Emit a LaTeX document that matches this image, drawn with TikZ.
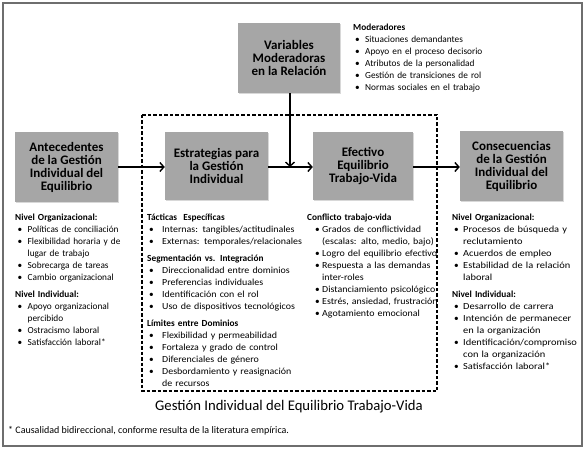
\documentclass[tikz,border=0pt]{standalone}
\usepackage{fontspec}
\setmainfont{Carlito}
\newfontfamily\fsA[FakeStretch=1.07]{Carlito}
\newfontfamily\fsB[FakeStretch=1.07]{Carlito}
\newfontfamily\fsC[FakeStretch=1.12]{Carlito}
\usetikzlibrary{arrows.meta,shadows}
\newlength{\boff}\newlength{\bind}
\newcommand{\bfnt}{}
\newcommand{\hfnt}{}
\newcommand{\lsetup}[2]{\raggedright\hyphenpenalty=10000 \exhyphenpenalty=10000 \setlength{\boff}{#1}\setlength{\bind}{#2}}
\newcommand{\bi}[1]{\par\hangindent=\bind\hangafter=1\noindent\hbox to \bind{\hspace{\boff}\textbullet\hfil}{\bfnt #1}}
\newcommand{\hd}[1]{\par\noindent{\hfnt\bfseries #1}}
\newcommand{\gap}{\par\vspace{5pt}}
\tikzset{
  gbox/.style={draw=none,fill={rgb,255:red,166;green,166;blue,166},align=center,
    font=\bfseries\fontsize{13}{13}\selectfont,inner sep=0pt,
    drop shadow={shadow xshift=1pt,shadow yshift=-1pt,opacity=0.3,fill=gray}},
  lst/.style={anchor=north west,inner sep=0pt,text width=#1,
    font=\fontsize{9.3}{12}\selectfont},
  arr/.style={line width=1.4pt,-{Straight Barb[length=4pt,width=9pt,line width=1.4pt]}}
}
\begin{document}
\begin{tikzpicture}[x=1pt,y=-1pt]
\useasboundingbox (0,0) rectangle (585,449);
\fill[white] (0,0) rectangle (585,449);
\draw[line width=1.2pt,draw={rgb,255:red,110;green,110;blue,110}] (3,3) rectangle (582,446);

% dashed region
\draw[line width=1.1pt,dash pattern=on 3.5pt off 2pt] (142,115) rectangle (437,391);

% boxes
\node[gbox,minimum width=102pt,minimum height=70pt] (V) at (289,58) {Variables\\Moderadoras\\en la Relación};
\node[gbox,minimum width=103pt,minimum height=70pt] (A) at (66.5,167) {Antecedentes\\de la Gestión\\Individual del\\Equilibrio};
\node[gbox,minimum width=103pt,minimum height=68pt] (S) at (216.5,166) {Estrategias para\\la Gestión\\Individual};
\node[gbox,minimum width=100pt,minimum height=68pt] (E) at (363,166) {Efectivo\\Equilibrio\\Trabajo-Vida};
\node[gbox,minimum width=103pt,minimum height=70pt] (C) at (511.5,166) {Consecuencias\\de la Gestión\\Individual del\\Equilibrio};

% connectors
\coordinate (vj) at (290,167);
\draw[arr] (A.east|-0,167) -- (S.west|-0,167);
\draw[arr] (S.east|-0,167) -- (E.west|-0,167);
\draw[arr] (E.east|-0,167) -- (C.west|-0,167);
\draw[arr] (V.south-|vj) -- (vj);

% moderadores
\node[lst=200pt] (M) at (353,18) {\lsetup{2pt}{12pt}%
\hd{Moderadores}
\bi{Situaciones demandantes}
\bi{Apoyo en el proceso decisorio}
\bi{Atributos de la personalidad}
\bi{Gestión de transiciones de rol}
\bi{Normas sociales en el trabajo}\par};

% left column
\node[lst=200pt] (L1) at (15,208) {\lsetup{2.5pt}{12.5pt}%
\hd{Nivel Organizacional:}
\bi{Políticas de conciliación}
\bi{Flexibilidad horaria y de\newline lugar de trabajo}
\bi{Sobrecarga de tareas}
\bi{Cambio organizacional}\gap
\hd{Nivel Individual:}
\bi{Apoyo organizacional\newline percibido}
\bi{Ostracismo laboral}
\bi{Satisfacción laboral*}\par};

% middle column
\node[lst=250pt] (L2) at (147,208) {\lsetup{2pt}{15pt}%
\renewcommand{\bfnt}{\fsA}%
\hd{Tácticas\ \ Específicas}
\bi{Internas: tangibles/actitudinales}
\bi{Externas: temporales/relacionales}\gap
\hd{Segmentación vs. Integración}
\bi{Direccionalidad entre dominios}
\bi{Preferencias individuales}
\bi{Identificación con el rol}
\bi{Uso de dispositivos tecnológicos}\gap
\hd{Límites entre Dominios}
\bi{Flexibilidad y permeabilidad}
\bi{Fortaleza y grado de control}
\bi{Diferenciales de género}
\bi{Desbordamiento y reasignación\newline de recursos}\par};

% effective column
\node[lst=250pt] (L3) at (307,208) {\lsetup{8pt}{15pt}%
\renewcommand{\bfnt}{\fsB}%
\hd{Conflicto trabajo-vida}
\bi{Grados de conflictividad\newline (escalas: alto, medio, bajo)}
\bi{Logro del equilibrio efectivo}
\bi{Respuesta a las demandas\newline inter-roles}
\bi{Distanciamiento psicológico}
\bi{Estrés, ansiedad, frustración}
\bi{Agotamiento emocional}\par};

% consequences column
\node[lst=200pt] (L4) at (452,208) {\lsetup{2pt}{11pt}%
\renewcommand{\bfnt}{\fsC}%
\hd{Nivel Organizacional:}
\bi{Procesos de búsqueda y\newline reclutamiento}
\bi{Acuerdos de empleo}
\bi{Estabilidad de la relación\newline laboral}\gap
\hd{Nivel Individual:}
\bi{Desarrollo de carrera}
\bi{Intención de permanecer\newline en la organización}
\bi{Identificación/compromiso\newline con la organización}
\bi{Satisfacción laboral*}\par};

\node[font=\fontsize{14.7}{16}\selectfont,inner sep=0pt] (G) at (289,407) {Gestión Individual del Equilibrio Trabajo-Vida};
\node[anchor=west,font=\fontsize{10}{11}\selectfont,inner sep=0pt] (F) at (8,431) {* Causalidad bidireccional, conforme resulta de la literatura empírica.};
\end{tikzpicture}
\end{document}
